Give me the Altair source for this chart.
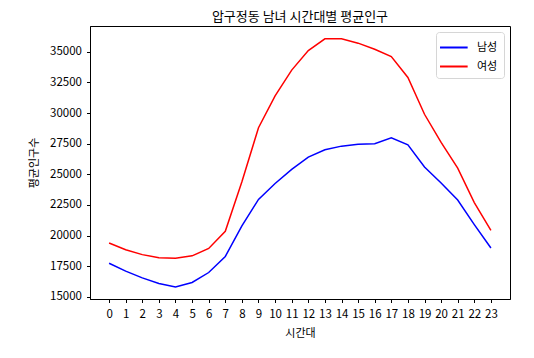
import altair as alt
import pandas as pd

hours = list(range(24))
male = [17750, 17100, 16550, 16100, 15820, 16180, 16990, 18300, 20800, 22950,
        24250, 25400, 26400, 27000, 27300, 27450, 27500, 27980, 27400, 25600,
        24300, 22900, 20900, 18990]
female = [19400, 18850, 18450, 18200, 18150, 18350, 18950, 20350, 24400, 28800,
          31400, 33500, 35100, 36050, 36050, 35700, 35200, 34600, 32900, 29900,
          27600, 25500, 22700, 20430]
series = ["남성", "여성"]
colors = ["blue", "red"]

rows = []
for h, m, f in zip(hours, male, female):
    rows.append({"시간대": h, "값": m, "성별": series[0]})
    rows.append({"시간대": h, "값": f, "성별": series[1]})
df = pd.DataFrame(rows)

FONT = "Noto Sans CJK KR"

axis_style = dict(grid=False, tickColor="black", domainColor="black", tickSize=3.5,
                  labelColor="black", labelFontSize=11.5, titleFontSize=11,
                  titleFontWeight="normal", labelFont=FONT, titleFont=FONT,
                  titleColor="black")

chart = alt.Chart(df).mark_line(strokeWidth=1.5).encode(
    x=alt.X("시간대:Q",
            scale=alt.Scale(domain=[-1.15, 24.15], nice=False, zero=False),
            axis=alt.Axis(values=hours, format="d", title="시간대",
                          titlePadding=7, labelPadding=6, **axis_style)),
    y=alt.Y("값:Q",
            scale=alt.Scale(domain=[14830, 37100], nice=False, zero=False),
            axis=alt.Axis(values=list(range(15000, 35001, 2500)), format="d",
                          title="평균인구수", titlePadding=10, labelPadding=5,
                          **axis_style)),
    color=alt.Color("성별:N",
                    scale=alt.Scale(domain=series, range=colors),
                    legend=alt.Legend(title=None, orient="top-right", offset=6,
                                      symbolType="M-1.35,0H1.9",
                                      symbolStrokeWidth=2, symbolSize=289,
                                      labelFontSize=11, labelFont=FONT,
                                      labelColor="black", labelOffset=16,
                                      strokeColor="#d6d6d6", padding=6,
                                      cornerRadius=3, fillColor="white",
                                      rowPadding=4)),
).properties(
    width=420, height=273,
    title=alt.TitleParams("압구정동 남녀 시간대별 평균인구", fontSize=13,
                          fontWeight="normal", font=FONT, offset=2, color="black"),
    autosize=alt.AutoSizeParams(type="none"),
    padding={"left": 82, "top": 18, "right": 16, "bottom": 51},
).configure_view(stroke="black", strokeWidth=1)

chart.save("out.html", embed_options={"renderer": "svg", "actions": False})
